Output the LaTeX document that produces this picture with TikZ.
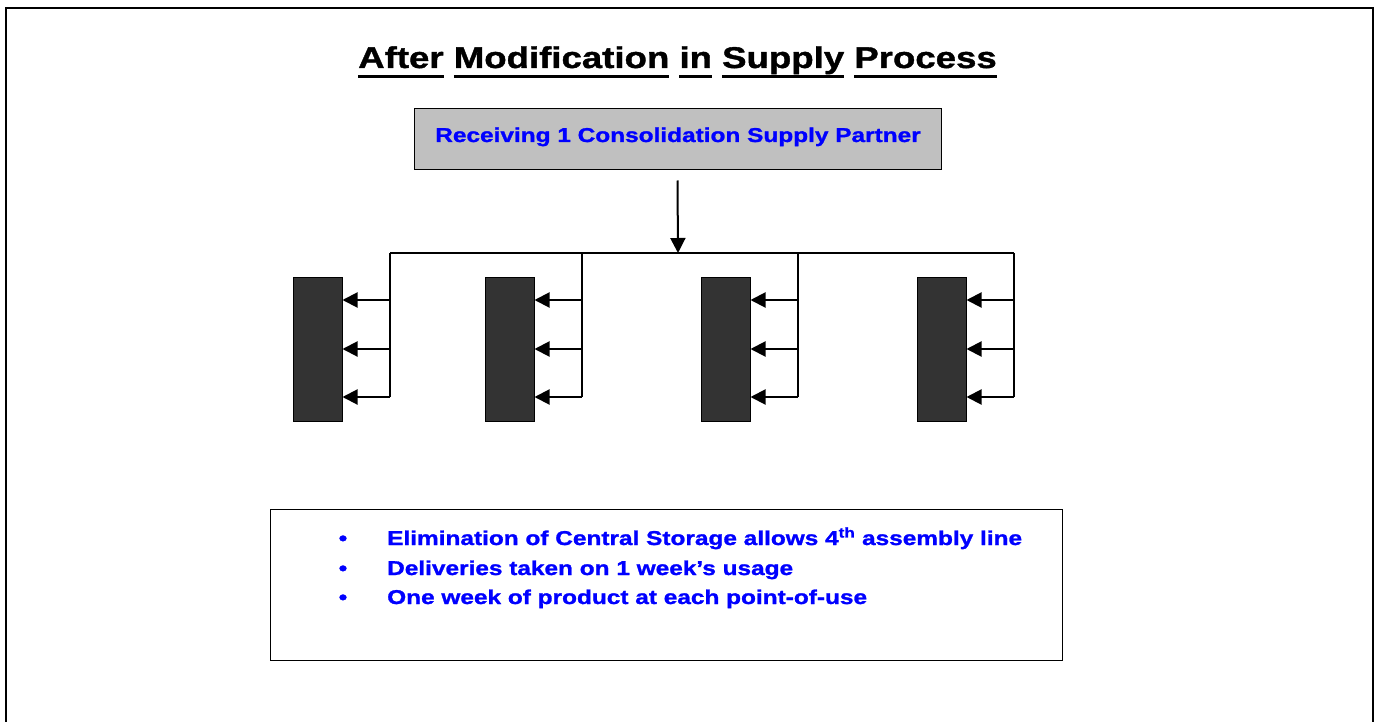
\documentclass[tikz,border=0pt]{standalone}
\usepackage{fontspec}
\setmainfont{Liberation Sans}[FakeStretch=1.22,FakeBold=1.3]
\usetikzlibrary{arrows.meta}
\definecolor{txtblue}{HTML}{0000FF}
\definecolor{boxgray}{HTML}{C0C0C0}
\definecolor{darkbar}{HTML}{333333}
\newcommand\ulword[1]{\setbox0=\hbox{#1}\rlap{\rule[-10pt]{\wd0}{3pt}}\box0\relax}
\begin{document}
\begin{tikzpicture}[x=1pt,y=-1pt,
  arr/.style={line width=2pt,-{Triangle[length=15pt,width=15pt]}},
  wire/.style={line width=2pt},
  bar/.style={draw=black,line width=1pt,fill=darkbar,minimum width=49pt,minimum height=144pt,inner sep=0pt},
  bodytxt/.style={text=txtblue,font=\fontsize{20}{24}\selectfont\bfseries,inner sep=0pt}]
\useasboundingbox (0,0) rectangle (1378,722);
\draw[line width=2pt] (6,722) -- (6,8) -- (1373,8) -- (1373,722);
% title
\node[anchor=base,inner sep=0pt,font=\fontsize{30}{36}\selectfont\bfseries] (title) at (677.5,68)
  {\ulword{After} \ulword{Modification} \ulword{in} \ulword{Supply} \ulword{Process}};
% top box
\node[draw=black,line width=1pt,fill=boxgray,minimum width=527pt,minimum height=61pt,inner sep=0pt] (top) at (677.5,139.5) {};
\node[bodytxt,anchor=base] (toptxt) at (678,142) {Receiving 1 Consolidation Supply Partner};
\coordinate (hub) at (678,253);
\draw[arr] ([yshift=-10pt]top.south) -- (hub);
% bars
\node[bar] (b1) at (317.5,349) {};
\node[bar] (b2) at (509.5,349) {};
\node[bar] (b3) at (725.5,349) {};
\node[bar] (b4) at (941.5,349) {};
\foreach \i/\x in {1/390,2/582,3/798,4/1014}{
  \coordinate (c\i) at (\x,253);
  \coordinate (j\i a) at (\x,300);
  \coordinate (j\i b) at (\x,349);
  \coordinate (j\i c) at (\x,397);
}
\draw[wire] (c1) -- (c4);
\foreach \i in {1,2,3,4}{
  \draw[wire] (c\i) -- (j\i c);
  \draw[arr] (j\i a) -- (b\i.east |- j\i a);
  \draw[arr] (j\i b) -- (b\i.east |- j\i b);
  \draw[arr] (j\i c) -- (b\i.east |- j\i c);
}
% bottom box
\node[draw=black,line width=1pt,minimum width=792pt,minimum height=151pt,inner sep=0pt] (notes) at (666,584.5) {};
\node[bodytxt,anchor=base] (bu1) at (343,545) {•};
\node[bodytxt,anchor=base] (bu2) at (343,575) {•};
\node[bodytxt,anchor=base] (bu3) at (343,604) {•};
\node[bodytxt,anchor=base west] (l1) at (387,545) {Elimination of Central Storage allows 4\textsuperscript{th} assembly line};
\node[bodytxt,anchor=base west] (l2) at (387,575) {Deliveries taken on 1 week’s usage};
\node[bodytxt,anchor=base west] (l3) at (387,604) {One week of product at each point-of-use};
\end{tikzpicture}
\end{document}
